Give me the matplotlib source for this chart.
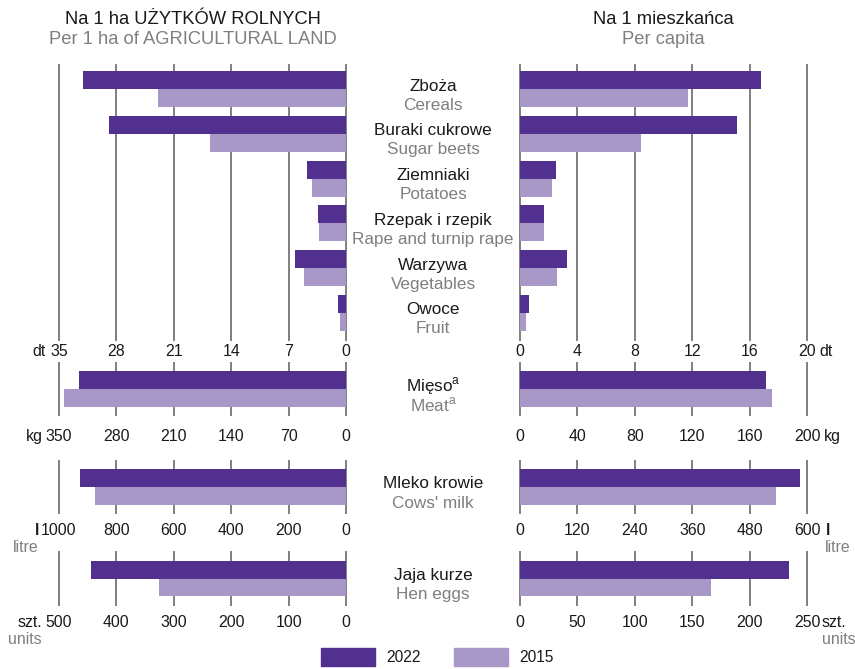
import matplotlib.pyplot as plt
from matplotlib.patches import Patch

plt.rcParams['font.family'] = ['Liberation Sans', 'DejaVu Sans']
plt.rcParams['mathtext.fontset'] = 'custom'
plt.rcParams['mathtext.rm'] = 'Liberation Sans'

# data
crops_pl = ['Zboża', 'Buraki cukrowe', 'Ziemniaki', 'Rzepak i rzepik', 'Warzywa', 'Owoce']
crops_en = ['Cereals', 'Sugar beets', 'Potatoes', 'Rape and turnip rape', 'Vegetables', 'Fruit']
crops_ha_2022 = [32.1, 28.9, 4.8, 3.4, 6.2, 1.0]
crops_ha_2015 = [22.9, 16.6, 4.1, 3.3, 5.1, 0.7]
crops_cap_2022 = [16.8, 15.1, 2.5, 1.7, 3.3, 0.6]
crops_cap_2015 = [11.7, 8.4, 2.2, 1.7, 2.6, 0.4]

meat_ha = [325.6, 343.9]      # 2022, 2015
meat_cap = [171.2, 175.6]
milk_ha = [926.8, 874.6]
milk_cap = [585.0, 535.0]
eggs_ha = [444.0, 326.0]
eggs_cap = [234.0, 166.0]

ticks_crop_ha = [0, 7, 14, 21, 28, 35]
ticks_crop_cap = [0, 4, 8, 12, 16, 20]
ticks_meat_ha = [0, 70, 140, 210, 280, 350]
ticks_meat_cap = [0, 40, 80, 120, 160, 200]
ticks_milk_ha = [0, 200, 400, 600, 800, 1000]
ticks_milk_cap = [0, 120, 240, 360, 480, 600]
ticks_eggs_ha = [0, 100, 200, 300, 400, 500]
ticks_eggs_cap = [0, 50, 100, 150, 200, 250]

C22 = '#51308f'
C15 = '#a898c8'
GRAY = '#7f7f7f'
DARK = '#1a1a1a'
FS = 12.3      # category labels
FT = 11.4      # tick labels / units
FH = 13.2      # headers
FL = 11.2      # legend

W, H = 855, 669
fig = plt.figure(figsize=(W / 100, H / 100), dpi=100)


def make_ax(x0, top, bottom):
    return fig.add_axes([x0 / W, 1 - bottom / H, 287 / W, (bottom - top) / H])


def style(ax, ticks, left, pad, ylim):
    for s in ax.spines.values():
        s.set_visible(False)
    ax.set_yticks([])
    ax.set_xticks(ticks)
    ax.set_xticklabels([str(t) for t in ticks])
    ax.tick_params(axis='x', length=0, labelsize=FT, pad=pad, colors=DARK)
    if left:
        ax.set_xlim(ticks[-1], 0)
    else:
        ax.set_xlim(0, ticks[-1])
    ax.set_ylim(*ylim)
    for t in ticks:
        ax.axvline(t, color=GRAY, lw=1.4, zorder=0, clip_on=False)


def unit(ax, x, text, dx, pad, color=DARK, ha='left', weight='normal', dy=0):
    ax.annotate(text, xy=(x, 0), xycoords=('data', 'axes fraction'),
                xytext=(dx * 0.72, -pad - dy * 0.72), textcoords='offset points',
                ha=ha, va='top', fontsize=FT, color=color, fontweight=weight,
                annotation_clip=False)


def mid_label(ax, y, pl, en):
    ax.annotate(pl, xy=(433 / W, y), xycoords=(fig.transFigure, ax.transData),
                xytext=(0, 3 * 0.72), textcoords='offset points',
                ha='center', va='center', fontsize=FS, color=DARK, annotation_clip=False)
    ax.annotate(en, xy=(433 / W, y), xycoords=(fig.transFigure, ax.transData),
                xytext=(0, -16 * 0.72), textcoords='offset points',
                ha='center', va='center', fontsize=FS, color=GRAY, annotation_clip=False)


# crop panels
ylim_crop = (5.603, -0.536)
ax1 = make_ax(59, 65, 340)
ax2 = make_ax(520, 65, 340)
ys = range(len(crops_pl))
ax1.barh([y - 0.2 for y in ys], crops_ha_2022, height=0.4, color=C22, zorder=2)
ax1.barh([y + 0.2 for y in ys], crops_ha_2015, height=0.4, color=C15, zorder=2)
ax2.barh([y - 0.2 for y in ys], crops_cap_2022, height=0.4, color=C22, zorder=2)
ax2.barh([y + 0.2 for y in ys], crops_cap_2015, height=0.4, color=C15, zorder=2)
style(ax1, ticks_crop_ha, True, 3, ylim_crop)
style(ax2, ticks_crop_cap, False, 3, ylim_crop)
unit(ax1, 35, 'dt', -13, 3, ha='right')
unit(ax2, 20, 'dt', 12, 3)

for i in ys:
    mid_label(ax1, i, crops_pl[i], crops_en[i])

# single-row panels
rows = [
    (363, 415, meat_ha, meat_cap, ticks_meat_ha, ticks_meat_cap, 10,
     'Mięso$^{\\mathrm{a}}$', 'Meat$^{\\mathrm{a}}$'),
    (461, 513, milk_ha, milk_cap, ticks_milk_ha, ticks_milk_cap, 7,
     'Mleko krowie', "Cows' milk"),
    (552, 605, eggs_ha, eggs_cap, ticks_eggs_ha, ticks_eggs_cap, 7,
     'Jaja kurze', 'Hen eggs'),
]
axes_rows = []
for top, bot, vha, vcap, tha, tcap, pad, lpl, len_ in rows:
    a = make_ax(59, top, bot)
    b = make_ax(520, top, bot)
    half = (bot - top) / 2 / 44.8
    yl = (half, -half)
    a.barh([-0.2], [vha[0]], height=0.4, color=C22, zorder=2)
    a.barh([0.2], [vha[1]], height=0.4, color=C15, zorder=2)
    b.barh([-0.2], [vcap[0]], height=0.4, color=C22, zorder=2)
    b.barh([0.2], [vcap[1]], height=0.4, color=C15, zorder=2)
    style(a, tha, True, pad, yl)
    style(b, tcap, False, pad, yl)
    mid_label(a, 0, lpl, len_)
    axes_rows.append((a, b, pad))

(am, bm, pm), (al, bl, pl), (ae, be, pe) = axes_rows
unit(am, 350, 'kg', -16, pm, ha='right')
unit(bm, 200, 'kg', 17, pm)
unit(al, 1000, 'l', -20, pl, ha='right', weight='bold')
unit(al, 1000, 'litre', -20, pl, color=GRAY, ha='right', dy=17)
unit(bl, 600, 'l', 19, pl, weight='bold')
unit(bl, 600, 'litre', 18, pl, color=GRAY, dy=17)
unit(ae, 500, 'szt.', -17, pe, ha='right')
unit(ae, 500, 'units', -17, pe, color=GRAY, ha='right', dy=17)
unit(be, 250, 'szt.', 15, pe)
unit(be, 250, 'units', 15, pe, color=GRAY, dy=17)

# titles
fig.text(193 / W, 1 - 19 / H, 'Na 1 ha UŻYTKÓW ROLNYCH', ha='center', va='center',
         fontsize=FH, color=DARK)
fig.text(193 / W, 1 - 39 / H, 'Per 1 ha of AGRICULTURAL LAND', ha='center', va='center',
         fontsize=FH, color=GRAY)
fig.text(663 / W, 1 - 19 / H, 'Na 1 mieszkańca', ha='center', va='center',
         fontsize=FH, color=DARK)
fig.text(663 / W, 1 - 39 / H, 'Per capita', ha='center', va='center',
         fontsize=FH, color=GRAY)

# legend
handles = [Patch(color=C22, label='2022'), Patch(color=C15, label='2015')]
leg = fig.legend(handles=handles, loc='center', bbox_to_anchor=(437 / W, 1 - 657 / H),
                 ncol=2, frameon=False, fontsize=FL, handlelength=3.46, handleheight=1.44,
                 handletextpad=0.72, columnspacing=2.16, borderpad=0)
for t in leg.get_texts():
    t.set_color(DARK)

fig.savefig('out.png', dpi=100)
